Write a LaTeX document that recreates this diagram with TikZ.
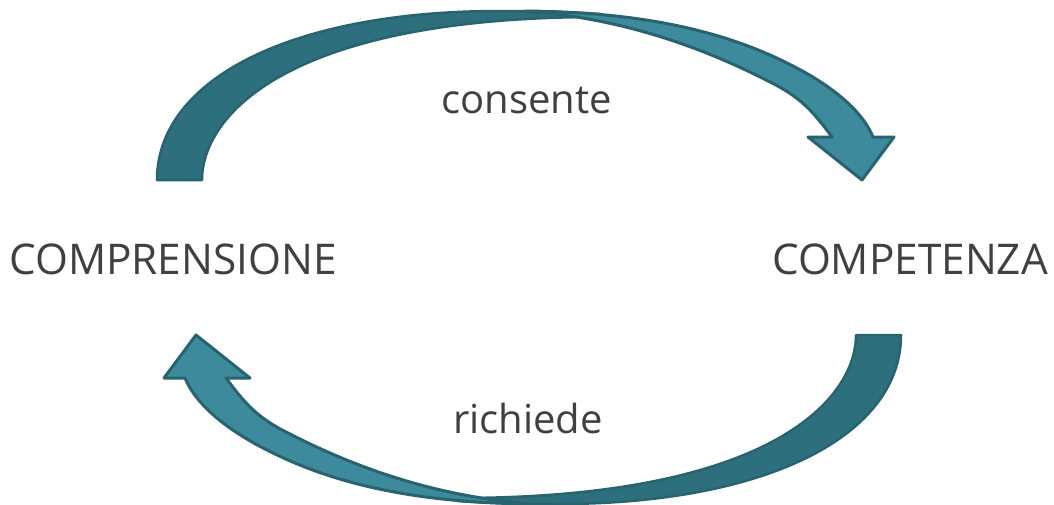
\documentclass[tikz,border=0pt]{standalone}
\usepackage{fontspec}
\setmainfont{Open Sans}
\definecolor{arrowdark}{RGB}{45,111,124}
\definecolor{arrowlight}{RGB}{61,138,156}
\definecolor{arrowline}{RGB}{40,99,111}
\definecolor{txt}{RGB}{64,64,64}
\tikzset{
  backpart/.style={fill=arrowdark, draw=arrowline, line width=2.5pt, line join=round},
  frontpart/.style={fill=arrowlight, draw=arrowline, line width=3pt, line join=round},
  bigword/.style={text=txt, font=\fontsize{42.3}{50}\selectfont, anchor=base, inner sep=0pt},
  smallword/.style={text=txt, font=\fontsize{40}{48}\selectfont, anchor=base, inner sep=0pt}
}
\begin{document}
\begin{tikzpicture}[x=1pt,y=-1pt]
\useasboundingbox (0,0) rectangle (1054,504);
\foreach \r in {0,180}{
\begin{scope}[rotate around={\r:(529,257.5)}]
  % back (darker) part of the ribbon
  \path[backpart] (157,180) .. controls (157,80) and (290,11) .. (500,11)
        .. controls (540,11) and (570,12) .. (600,14)
        -- (600,17) .. controls (285,17) and (202,117) .. (202,180) -- cycle;
  % front (lighter) part with the head
  \path[frontpart] (525,11) .. controls (630,12) and (715,27) .. (787,63)
        .. controls (830,84) and (862,110) .. (873,137)
        -- (894,137) -- (862,180) -- (808,137) -- (832,137)
        .. controls (812,110) and (800,97) .. (770,82)
        .. controls (700,46) and (620,18) .. (525,11) -- cycle;
\end{scope}
}
\node[bigword] (compr) at (173,274) {COMPRENSIONE};
\node[bigword] (comp) at (910,274) {COMPETENZA};
\node[smallword] (cons) at (526.5,113) {consente};
\node[smallword] (rich) at (528,433) {richiede};
\end{tikzpicture}
\end{document}
